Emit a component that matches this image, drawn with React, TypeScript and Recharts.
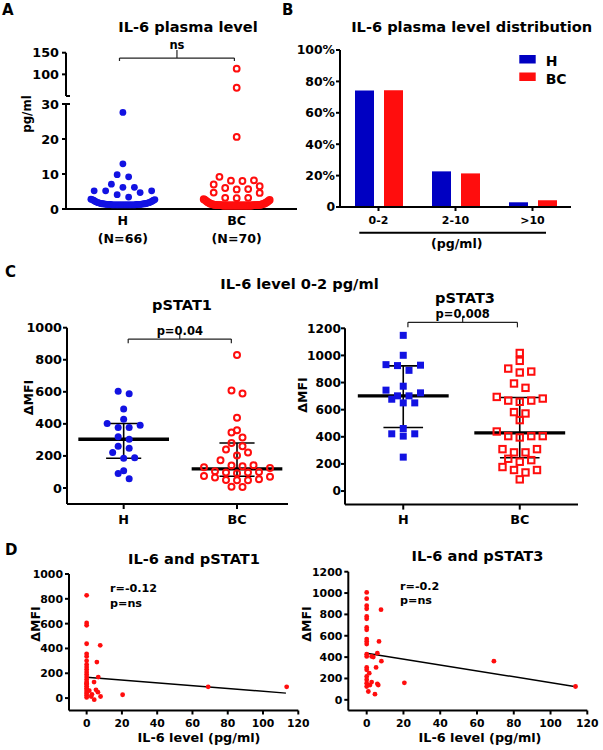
import React from 'react';
import { Bar, BarChart, ReferenceLine, Scatter, ScatterChart, XAxis, YAxis } from 'recharts';

const FONT = '"DejaVu Sans", "Liberation Sans", Arial, sans-serif';
const BLUE = '#1212e2';
const BLUE_BAR = '#0000c2';
const RED = '#ff0d0d';
const INK = '#000';

// groups
const groups = ['H', 'BC'];
const groupCounts = ['(N=66)', '(N=70)'];
const groupColors = [BLUE_BAR, RED];

// A: IL-6 plasma level (pg/ml), one value per subject
const il6H = [
  27.6, 12.9, 9.8, 9.2, 7.1, 6.2, 6.2, 5.2, 5.2, 5.2, 4.7, 4.1, 3.4,
  2.8, 2.7, 2.7, 2.5, 2.5, 2.3, 2.3, 2.1, 2.1,
  1.9, 1.9, 1.8, 1.8, 1.7, 1.7, 1.6, 1.6,
  1.5, 1.5, 1.5, 1.5, 1.4, 1.4, 1.4, 1.4,
  1.3, 1.3, 1.3, 1.3, 1.3, 1.3, 1.3, 1.3,
  1.2, 1.2, 1.2, 1.2, 1.2, 1.2, 1.2, 1.2, 1.2, 1.2,
  1.2, 1.2, 1.2, 1.2, 1.2, 1.2, 1.2, 1.2, 1.2, 1.2,
];
const il6BC = [
  113, 69, 20.6, 9.2, 8.2, 8.1, 8.0, 7.0, 6.5, 6.0, 5.7, 5.6, 4.7, 4.6, 3.2, 3.2, 3.1,
  2.8, 2.6, 2.6, 2.3, 2.3, 2.0, 2.0, 1.8, 1.8, 1.6, 1.6, 1.4, 1.4, 1.4, 1.4,
  1.2, 1.2, 1.2, 1.2, 1.2, 1.2, 1.1, 1.1, 1.1, 1.1, 1.1, 1.1, 1.1, 1.1,
  1.0, 1.0, 1.0, 1.0, 1.0, 1.0, 1.0, 1.0, 1.0, 1.0, 1.0, 1.0,
  1.0, 1.0, 1.0, 1.0, 1.0, 1.0, 1.0, 1.0, 1.0, 1.0, 1.0, 1.0,
];

// B: distribution (% of subjects)
const ranges = ['0-2', '2-10', '>10'];
const pctH = [74.2, 22.7, 3.0];
const pctBC = [74.3, 21.4, 4.3];

// C: pSTAT1 / pSTAT3 delta MFI, IL-6 0-2 pg/ml
const pstat1H = [604, 588, 492, 429, 402, 392, 377, 377, 319, 304, 260, 248, 221, 188, 185, 108, 90, 58];
const pstat1BC = [829, 608, 590, 438, 360, 346, 315, 280, 260, 240, 221, 202, 173, 142, 140, 135, 129, 125, 104, 100, 96, 96, 92, 75, 70, 65, 55, 50, 48, 48, 8, 6];
const pstat1Median = [304, 119];
const pstat1Low = [185, 73];
const pstat1High = [402, 281];

const pstat3H = [1148, 1001, 932, 928, 925, 890, 773, 744, 724, 702, 702, 677, 650, 650, 461, 422, 422, 405, 250];
const pstat3BC = [1018, 960, 903, 881, 874, 793, 761, 694, 682, 667, 667, 658, 582, 572, 523, 439, 405, 405, 405, 395, 309, 309, 285, 285, 238, 228, 216, 177, 155, 155, 137, 86];
const pstat3Median = [702, 429];
const pstat3Low = [469, 245];
const pstat3High = [923, 690];

// D: IL-6 vs pSTAT (BC)
const corr1Il6 = [0, 0, 0, 0, 7.7, 0, 0, 5.8, 0, 0, 0, 0, 0, 0, 0, 0, 0, 0, 0, 0, 0, 0, 0, 0, 0, 0, 6.6, 4.2, 5.3, 6.4, 2.6, 4.3, 7.9, 1.5, 3.0, 20.4, 68.9, 113.4];
const corr1Pstat = [828, 605, 586, 438, 425, 357, 336, 290, 300, 270, 250, 230, 210, 190, 170, 150, 130, 110, 95, 80, 65, 50, 35, 20, 5, 120, 169, 129, 67, 48, 13, -13, 13, 60, 30, 27, 91, 91];
const corr3Il6 = [0, 0, 0, 0, 0, 0, 0, 0, 0, 0, 0, 0, 0, 0, 0, 0, 0, 0, 0, 7.8, 6.7, 5.8, 8.0, 5.1, 2.7, 3.6, 1.4, 2.7, 1.8, 5.8, 6.3, 0.9, 4.5, 20.5, 69.2, 113.6];
const corr3Pstat = [1006, 947, 881, 853, 781, 759, 678, 656, 569, 547, 522, 428, 406, 303, 281, 219, 188, 156, 125, 844, 547, 437, 362, 303, 406, 400, 250, 166, 138, 150, 138, 78, 53, 159, 362, 125];
const fitIl6 = [0, 113];
const fit1 = [167, 40];
const fit3 = [437, 125];
const corrText1 = ['r=-0.12', 'p=ns'];
const corrText3 = ['r=-0.2', 'p=ns'];

type Pt = { x: number; y: number };

// scatter dot plot layout: values binned into rows, spread sideways, lowest in the middle
function swarm(values: number[], center: number, pxPerX: number, pxPerY: number, rowPx: number, stepPx: number, halfPx: number): Pt[] {
  const sorted = [...values].sort((a, b) => a - b);
  const out: Pt[] = [];
  let i = 0;
  while (i < sorted.length) {
    const first = sorted[i];
    const row: number[] = [];
    while (i < sorted.length && (sorted[i] - first) * pxPerY < rowPx) row.push(sorted[i++]);
    const n = row.length;
    const step = n > 1 ? Math.min(stepPx, (2 * halfPx) / (n - 1)) : 0;
    const slots = row.map((_, k) => (k - (n - 1) / 2) * step).sort((a, b) => Math.abs(a) - Math.abs(b) || b - a);
    row.forEach((v, k) => out.push({ x: center + slots[k] / pxPerX, y: v }));
  }
  return out;
}

const AX = { stroke: INK, strokeWidth: 2 };
const tick = (size: number) => ({ fill: INK, fontSize: size, fontWeight: 700, fontFamily: FONT });

const dot = (r: number, fill: string) => (p: any) => <circle cx={p.cx} cy={p.cy} r={r} fill={fill} />;
const ring = (r: number, stroke: string) => (p: any) => <circle cx={p.cx} cy={p.cy} r={r} fill="none" stroke={stroke} strokeWidth={2} />;
const square = (s: number, fill: string) => (p: any) => <rect x={p.cx - s / 2} y={p.cy - s / 2} width={s} height={s} fill={fill} />;
const openSquare = (s: number, stroke: string) => (p: any) => (
  <rect x={p.cx - s / 2} y={p.cy - s / 2} width={s} height={s} fill="none" stroke={stroke} strokeWidth={2} />
);

function bracket(key: string, x1: number, x2: number, y: number, yLow: number, yHigh: number, text: string, offset: number) {
  const line = { stroke: '#222', strokeWidth: 1.2, ifOverflow: 'visible' as const };
  const xm = (x1 + x2) / 2;
  return [
    <ReferenceLine key={key + 'h'} segment={[{ x: x1, y }, { x: x2, y }]} {...line}
      label={{ value: text, position: 'top', offset, fill: INK, fontSize: 11.5, fontWeight: 700, fontFamily: FONT }} />,
    <ReferenceLine key={key + 'l'} segment={[{ x: x1, y }, { x: x1, y: yLow }]} {...line} />,
    <ReferenceLine key={key + 'r'} segment={[{ x: x2, y }, { x: x2, y: yLow }]} {...line} />,
    <ReferenceLine key={key + 'm'} segment={[{ x: xm, y }, { x: xm, y: yHigh }]} {...line} />,
  ];
}

function summary(key: string, median: number[], low: number[], high: number[], half: number, cap: number) {
  const out: React.ReactElement[] = [];
  median.forEach((m, i) => {
    const g = i + 1;
    const thin = { stroke: INK, strokeWidth: 1.6, ifOverflow: 'visible' as const };
    out.push(<ReferenceLine key={`${key}v${i}`} segment={[{ x: g, y: low[i] }, { x: g, y: high[i] }]} {...thin} />);
    out.push(<ReferenceLine key={`${key}lo${i}`} segment={[{ x: g - cap, y: low[i] }, { x: g + cap, y: low[i] }]} {...thin} />);
    out.push(<ReferenceLine key={`${key}hi${i}`} segment={[{ x: g - cap, y: high[i] }, { x: g + cap, y: high[i] }]} {...thin} />);
    out.push(<ReferenceLine key={`${key}m${i}`} segment={[{ x: g - half, y: m }, { x: g + half, y: m }]} stroke={INK} strokeWidth={3.3} ifOverflow="visible" />);
  });
  return out;
}

function GroupTick(props: any) {
  const { x, y, payload } = props;
  const i = payload.value - 1;
  const st = { fill: INK, fontSize: 12.6, fontWeight: 700, fontFamily: FONT, textAnchor: 'middle' as const };
  return (
    <g>
      <text x={x} y={y} dy="0.73em" {...st}>{groups[i]}</text>
      <text x={x} y={y + 18} dy="0.73em" {...st}>{groupCounts[i]}</text>
    </g>
  );
}

const box = (left: number, top: number): React.CSSProperties => ({ position: 'absolute', left, top });

function PanelA() {
  const pxX = 231 / 2.03;
  const lowH = swarm(il6H.filter((v) => v <= 30), 1, pxX, 3.5, 7, 11.5, 32);
  const lowBC = swarm(il6BC.filter((v) => v <= 30), 2, pxX, 3.5, 7, 11.5, 33);
  const highBC = swarm(il6BC.filter((v) => v > 30), 2, pxX, 43.3 / 100, 7, 11.5, 33);
  const nub = 4 / pxX;
  return (
    <>
      <div style={box(0, 30)}>
        <ScatterChart width={300} height={70} margin={{ top: 22.7, right: 3, bottom: 4, left: 0 }}>
          <XAxis type="number" dataKey="x" domain={[0.5, 2.53]} hide />
          <YAxis type="number" dataKey="y" domain={[50, 150]} ticks={[50, 100, 150]} width={66}
            axisLine={AX} tickLine={AX} tickSize={4} tickMargin={3} tick={tick(12.8)} />
          <Scatter data={highBC} shape={ring(2.9, RED)} isAnimationActive={false} />
          <ReferenceLine segment={[{ x: 0.5, y: 50 }, { x: 0.5 + nub, y: 50 }]} stroke={INK} strokeWidth={2} ifOverflow="visible" />
          {bracket('a', 0.97, 1.98, 137.7, 130.8, 156, 'ns', 9)}
        </ScatterChart>
      </div>
      <div style={box(0, 96)}>
        <ScatterChart width={300} height={154} margin={{ top: 8, right: 3, bottom: 0, left: 0 }}>
          <XAxis type="number" dataKey="x" domain={[0.5, 2.53]} ticks={[1, 2]} height={41}
            axisLine={AX} tickLine={false} tickSize={0} tickMargin={7} tick={<GroupTick />} />
          <YAxis type="number" dataKey="y" domain={[0, 30]} ticks={[0, 10, 20, 30]} width={66}
            axisLine={AX} tickLine={AX} tickSize={4} tickMargin={3} tick={tick(12.8)} />
          <ReferenceLine segment={[{ x: 0.5, y: 30 }, { x: 0.5 + nub, y: 30 }]} stroke={INK} strokeWidth={2} ifOverflow="visible" />
          <Scatter data={lowH} shape={dot(3.4, BLUE)} isAnimationActive={false} />
          <Scatter data={lowBC} shape={ring(2.9, RED)} isAnimationActive={false} />
        </ScatterChart>
      </div>
    </>
  );
}

function PanelB() {
  const data = ranges.map((r, i) => ({ range: r, h: pctH[i], bc: pctBC[i] }));
  return (
    <div style={box(290, 30)}>
      <BarChart width={313} height={220} data={data} margin={{ top: 20, right: 32, bottom: 0, left: 0 }} barGap={10}>
        <XAxis dataKey="range" height={43} interval={0} axisLine={AX} tickLine={AX} tickSize={4} tickMargin={5} tick={tick(11)} />
        <YAxis type="number" domain={[0, 100]} ticks={[0, 20, 40, 60, 80, 100]} width={50}
          tickFormatter={(v: number) => (v === 0 ? '0' : `${v}%`)}
          axisLine={AX} tickLine={AX} tickSize={4} tickMargin={1} tick={tick(12.4)} />
        <Bar dataKey="h" name={groups[0]} fill={groupColors[0]} barSize={19} isAnimationActive={false} />
        <Bar dataKey="bc" name={groups[1]} fill={groupColors[1]} barSize={19} isAnimationActive={false} />
      </BarChart>
    </div>
  );
}

function PanelC() {
  const x1 = 221 / 1.95;
  const y1 = 176.3 / 1100;
  const x3 = 233 / 2;
  const y3 = 176.3 / 1300;
  const s1H = swarm(pstat1H, 1, x1, y1, 6.5, 11, 40);
  const s1BC = swarm(pstat1BC, 2, x1, y1, 6.5, 11, 40);
  const s3H = swarm(pstat3H, 1, x3, y3, 6.5, 11.5, 40);
  const s3BC = swarm(pstat3BC, 2, x3, y3, 6.5, 11.5, 40);
  const fmt = (v: number) => groups[v - 1];
  return (
    <>
      <div style={box(0, 300)}>
        <ScatterChart width={300} height={240} margin={{ top: 27.7, right: 12, bottom: 0, left: 0 }}>
          <XAxis type="number" dataKey="x" domain={[0.5, 2.45]} ticks={[1, 2]} tickFormatter={fmt} height={36}
            axisLine={AX} tickLine={AX} tickSize={5} tickMargin={6} tick={tick(12.8)} />
          <YAxis type="number" dataKey="y" domain={[-100, 1000]} ticks={[0, 200, 400, 600, 800, 1000]} width={67}
            axisLine={AX} tickLine={AX} tickSize={4} tickMargin={1} tick={tick(12.8)} />
          <Scatter data={s1H} shape={dot(3.5, BLUE)} isAnimationActive={false} />
          <Scatter data={s1BC} shape={ring(3, RED)} isAnimationActive={false} />
          {summary('c1', pstat1Median, pstat1Low, pstat1High, 0.4, 0.155)}
          {bracket('c1b', 1.04, 1.95, 929, 903, 967, 'p=0.04', 4)}
        </ScatterChart>
      </div>
      <div style={box(290, 300)}>
        <ScatterChart width={313} height={240} margin={{ top: 28.3, right: 25, bottom: 0, left: 0 }}>
          <XAxis type="number" dataKey="x" domain={[0.5, 2.5]} ticks={[1, 2]} tickFormatter={fmt} height={35.4}
            axisLine={AX} tickLine={AX} tickSize={5} tickMargin={5} tick={tick(12.8)} />
          <YAxis type="number" dataKey="y" domain={[-100, 1200]} ticks={[0, 200, 400, 600, 800, 1000, 1200]} width={55}
            axisLine={AX} tickLine={AX} tickSize={4} tickMargin={0} tick={tick(12.2)} />
          <Scatter data={s3H} shape={square(7, BLUE)} isAnimationActive={false} />
          <Scatter data={s3BC} shape={openSquare(6.4, RED)} isAnimationActive={false} />
          {summary('c3', pstat3Median, pstat3Low, pstat3High, 0.39, 0.17)}
          {bracket('c3b', 1.04, 1.98, 1244, 1207, 1289, 'p=0.008', 4)}
        </ScatterChart>
      </div>
    </>
  );
}

function CorrChart({ il6, pstat, fit, yMax, left, width, yWidth, right, top }: {
  il6: number[]; pstat: number[]; fit: number[]; yMax: number; left: number; width: number; yWidth: number; right: number; top: number;
}) {
  const pts = il6.map((x, i) => ({ x, y: pstat[i] }));
  const yTicks = yMax === 1000 ? [0, 200, 400, 600, 800, 1000] : [0, 200, 400, 600, 800, 1000, 1200];
  return (
    <div style={box(left, 550)}>
      <ScatterChart width={width} height={200} margin={{ top, right, bottom: 0, left: 0 }}>
        <XAxis type="number" dataKey="x" domain={[-10, 120]} ticks={[0, 20, 40, 60, 80, 100, 120]} height={200 - 160.5}
          axisLine={AX} tickLine={AX} tickSize={4} tickMargin={5} tick={tick(10.8)} />
        <YAxis type="number" dataKey="y" domain={[-100, yMax]} ticks={yTicks} width={yWidth}
          axisLine={AX} tickLine={AX} tickSize={4} tickMargin={2} tick={tick(10.9)} />
        <Scatter data={pts} shape={dot(2.4, RED)} isAnimationActive={false} />
        <ReferenceLine segment={[{ x: fitIl6[0], y: fit[0] }, { x: fitIl6[1], y: fit[1] }]} stroke={INK} strokeWidth={1.5} />
      </ScatterChart>
    </div>
  );
}

function Txt({ x, y, size, anchor = 'middle', rotate = false, children }: {
  x: number; y: number; size: number; anchor?: 'start' | 'middle' | 'end'; rotate?: boolean; children: React.ReactNode;
}) {
  return (
    <text x={x} y={y} fontSize={size} textAnchor={anchor} transform={rotate ? `rotate(-90 ${x} ${y})` : undefined}>
      {children}
    </text>
  );
}

function Overlay() {
  return (
    <svg width={603} height={750} style={{ position: 'absolute', left: 0, top: 0, pointerEvents: 'none' }}
      fontFamily={FONT} fontWeight={700} fill={INK}>
      <Txt x={2} y={15} size={15} anchor="start">A</Txt>
      <Txt x={282} y={15} size={15} anchor="start">B</Txt>
      <Txt x={5} y={277} size={15} anchor="start">C</Txt>
      <Txt x={5} y={555} size={15} anchor="start">D</Txt>

      <Txt x={188} y={32} size={14.6}>IL-6 plasma level</Txt>
      <Txt x={471.7} y={32} size={14.6}>IL-6 plasma level distribution</Txt>
      <Txt x={299.5} y={289} size={14.6}>IL-6 level 0-2 pg/ml</Txt>
      <Txt x={182} y={310} size={14.6}>pSTAT1</Txt>
      <Txt x={465} y={303} size={14.6}>pSTAT3</Txt>
      <Txt x={194} y={564} size={14.6}>IL-6 and pSTAT1</Txt>
      <Txt x={477.5} y={561} size={14.6}>IL-6 and pSTAT3</Txt>

      <Txt x={30.6} y={114} size={11.8} rotate>pg/ml</Txt>
      <Txt x={33} y={397.5} size={12.6} rotate>ΔMFI</Txt>
      <Txt x={307} y={395} size={12.6} rotate>ΔMFI</Txt>
      <Txt x={40} y={624} size={12.6} rotate>ΔMFI</Txt>
      <Txt x={311} y={624} size={12.6} rotate>ΔMFI</Txt>
      <Txt x={199} y={742} size={12.8}>IL-6 level (pg/ml)</Txt>
      <Txt x={480} y={742} size={12.8}>IL-6 level (pg/ml)</Txt>

      <line x1={359.3} y1={232.7} x2={546} y2={232.7} stroke={INK} strokeWidth={2} />
      <Txt x={456.7} y={248} size={12.6}>(pg/ml)</Txt>

      {groups.map((g, i) => (
        <g key={g}>
          <rect x={519.3} y={55 + i * 17.5} width={16.4} height={8.5} fill={groupColors[i]} />
          <Txt x={545.7} y={66 + i * 18} size={14} anchor="start">{g}</Txt>
        </g>
      ))}

      <Txt x={110} y={591.5} size={11.2} anchor="start">{corrText1[0]}</Txt>
      <Txt x={110} y={607} size={11.2} anchor="start">{corrText1[1]}</Txt>
      <Txt x={400} y={590} size={11.2} anchor="start">{corrText3[0]}</Txt>
      <Txt x={400} y={604} size={11.2} anchor="start">{corrText3[1]}</Txt>
    </svg>
  );
}

export default function App() {
  return (
    <div style={{ position: 'absolute', left: 0, top: 0, width: 603, height: 750, background: '#fff', fontFamily: FONT }}>
      <PanelA />
      <PanelB />
      <PanelC />
      <CorrChart il6={corr1Il6} pstat={corr1Pstat} fit={fit1} yMax={1000} left={0} width={310} yWidth={69} right={11.7} top={24} />
      <CorrChart il6={corr3Il6} pstat={corr3Pstat} fit={fit3} yMax={1200} left={290} width={313} yWidth={58.3} right={15.7} top={21.7} />
      <Overlay />
    </div>
  );
}
